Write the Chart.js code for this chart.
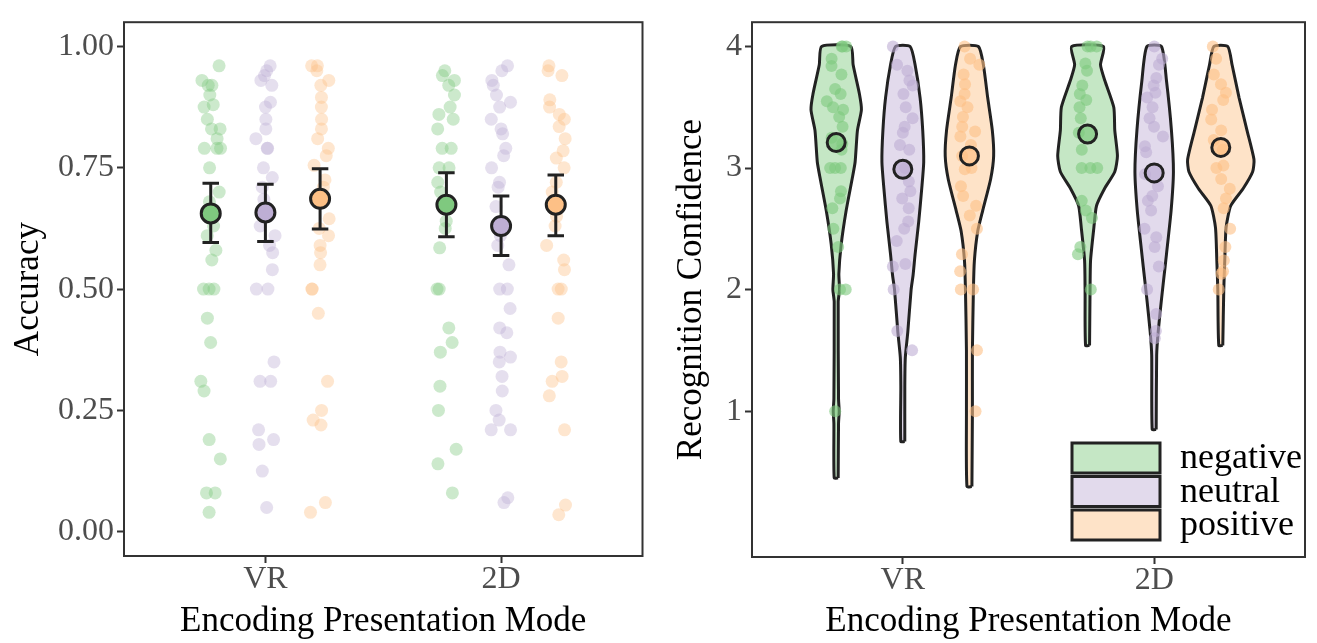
<!DOCTYPE html>
<html>
<head>
<meta charset="utf-8">
<title>Accuracy and Recognition Confidence</title>
<script src="https://cdn.jsdelivr.net/npm/chart.js@4.4.1/dist/chart.umd.min.js"></script>
<style>
  html, body { margin: 0; padding: 0; background: #fff; }
  #wrap { position: relative; width: 1317px; height: 643px; }
  #left { position: absolute; left: 0; top: 0; }
  #right { position: absolute; left: 655px; top: 0; }
</style>
</head>
<body>
<div id="wrap">
  <canvas id="left" width="655" height="643"></canvas>
  <canvas id="right" width="662" height="643"></canvas>
</div>
<script>
const modes = ['VR', '2D'];
const valences = ['negative', 'neutral', 'positive'];
const colors = ['#7FC97F', '#BEAED4', '#FDC086'];

// accuracy, one value per participant
const accVRneg = [0.96, 0.93, 0.92, 0.92, 0.90, 0.88, 0.875, 0.85, 0.83, 0.83, 0.81, 0.79, 0.79, 0.79, 0.75, 0.70, 0.68, 0.63, 0.61, 0.58, 0.56, 0.50, 0.50, 0.50, 0.44, 0.39, 0.31, 0.29, 0.19, 0.15, 0.08, 0.08, 0.04];
const accVRneu = [0.96, 0.95, 0.94, 0.93, 0.92, 0.885, 0.875, 0.85, 0.83, 0.81, 0.79, 0.79, 0.75, 0.73, 0.71, 0.685, 0.63, 0.61, 0.59, 0.575, 0.54, 0.50, 0.50, 0.35, 0.31, 0.31, 0.21, 0.19, 0.18, 0.125, 0.05];
const accVRpos = [0.96, 0.96, 0.95, 0.93, 0.92, 0.895, 0.875, 0.85, 0.83, 0.81, 0.79, 0.775, 0.755, 0.725, 0.71, 0.645, 0.625, 0.61, 0.59, 0.575, 0.55, 0.50, 0.50, 0.45, 0.31, 0.25, 0.23, 0.22, 0.06, 0.04];
const acc2Dneg = [0.95, 0.94, 0.93, 0.92, 0.90, 0.875, 0.86, 0.85, 0.83, 0.79, 0.79, 0.75, 0.75, 0.72, 0.70, 0.64, 0.625, 0.585, 0.50, 0.50, 0.42, 0.39, 0.37, 0.30, 0.25, 0.17, 0.14, 0.08];
const acc2Dneu = [0.96, 0.95, 0.93, 0.92, 0.90, 0.885, 0.875, 0.85, 0.83, 0.82, 0.79, 0.775, 0.75, 0.72, 0.71, 0.67, 0.61, 0.59, 0.55, 0.50, 0.50, 0.46, 0.42, 0.41, 0.37, 0.36, 0.35, 0.32, 0.29, 0.25, 0.23, 0.21, 0.21, 0.07, 0.06];
const acc2Dpos = [0.96, 0.95, 0.94, 0.89, 0.875, 0.86, 0.85, 0.835, 0.81, 0.785, 0.77, 0.75, 0.72, 0.70, 0.67, 0.65, 0.63, 0.59, 0.56, 0.54, 0.50, 0.50, 0.44, 0.35, 0.32, 0.31, 0.28, 0.21, 0.055, 0.035];

// group means and interval ends, rows VR / 2D, columns negative / neutral / positive
const accMean = [[0.656, 0.658, 0.686], [0.674, 0.630, 0.674]];
const accLow  = [[0.596, 0.598, 0.624], [0.608, 0.569, 0.610]];
const accHigh = [[0.718, 0.716, 0.748], [0.740, 0.692, 0.735]];
const accTicks = [0, 0.25, 0.5, 0.75, 1];

// recognition confidence, one value per participant
const confVRneg = [4.0, 4.0, 4.0, 3.9, 3.84, 3.77, 3.65, 3.61, 3.55, 3.5, 3.48, 3.42, 3.34, 3.25, 3.2, 3.15, 3.0, 3.0, 3.0, 2.81, 2.75, 2.67, 2.5, 2.35, 2.0, 2.0, 1.0];
const confVRneu = [4.0, 3.85, 3.8, 3.72, 3.68, 3.61, 3.5, 3.41, 3.34, 3.29, 3.19, 3.15, 3.0, 2.89, 2.81, 2.75, 2.67, 2.56, 2.5, 2.4, 2.21, 2.19, 2.0, 1.66, 1.5];
const confVRpos = [4.0, 3.9, 3.85, 3.77, 3.69, 3.61, 3.55, 3.5, 3.42, 3.34, 3.3, 3.26, 3.19, 3.1, 3.0, 2.99, 2.85, 2.77, 2.69, 2.61, 2.5, 2.29, 2.15, 2.0, 2.0, 1.5, 1.0];
const conf2Dneg = [4.0, 4.0, 4.0, 3.86, 3.8, 3.68, 3.61, 3.56, 3.5, 3.41, 3.29, 3.15, 3.0, 3.0, 3.0, 2.73, 2.65, 2.59, 2.35, 2.29, 2.0];
const conf2Dneu = [4.0, 3.9, 3.85, 3.74, 3.68, 3.62, 3.58, 3.5, 3.41, 3.34, 3.26, 3.18, 3.13, 2.95, 2.85, 2.77, 2.73, 2.65, 2.5, 2.43, 2.35, 2.19, 2.0, 1.8, 1.66, 1.6];
const conf2Dpos = [4.0, 3.9, 3.77, 3.69, 3.62, 3.56, 3.48, 3.4, 3.31, 3.23, 3.15, 3.02, 3.0, 2.91, 2.83, 2.75, 2.67, 2.5, 2.35, 2.24, 2.15, 2.13, 2.0];
const confMean = [[3.21, 2.99, 3.10], [3.28, 2.96, 3.17]];
const confTicks = [1, 2, 3, 4];

// violin outlines: [confidence, relative density]
const vioVRneg = [[0.45, 0.06], [0.9, 0.07], [1.0, 0.09], [1.1, 0.07], [1.9, 0.06], [2.0, 0.1], [2.13, 0.08], [2.37, 0.15], [2.65, 0.3], [2.91, 0.48], [3.05, 0.57], [3.31, 0.64], [3.48, 0.76], [3.61, 0.7], [3.85, 0.51], [4.0, 0.44]];
const vioVRneu = [[0.75, 0.06], [1.2, 0.06], [1.44, 0.075], [1.65, 0.15], [2.0, 0.25], [2.12, 0.31], [2.29, 0.37], [2.56, 0.48], [2.83, 0.57], [3.05, 0.63], [3.31, 0.6], [3.58, 0.52], [3.85, 0.37], [4.0, 0.22]];
const vioVRpos = [[0.38, 0.075], [1.0, 0.09], [1.5, 0.09], [2.0, 0.12], [2.24, 0.15], [2.48, 0.25], [2.65, 0.4], [2.91, 0.64], [3.1, 0.73], [3.31, 0.69], [3.58, 0.55], [3.85, 0.42], [4.0, 0.27]];
const vio2Dneg = [[1.54, 0.06], [2.0, 0.075], [2.24, 0.09], [2.51, 0.19], [2.69, 0.27], [2.83, 0.51], [2.97, 0.82], [3.1, 0.9], [3.31, 0.82], [3.5, 0.79], [3.72, 0.52], [3.85, 0.39], [4.0, 0.48]];
const vio2Dneu = [[0.85, 0.06], [1.46, 0.075], [1.65, 0.12], [1.92, 0.22], [2.19, 0.33], [2.29, 0.37], [2.65, 0.51], [2.97, 0.58], [3.31, 0.52], [3.72, 0.37], [4.0, 0.22]];
const vio2Dpos = [[1.54, 0.06], [2.0, 0.09], [2.24, 0.12], [2.51, 0.16], [2.69, 0.3], [2.83, 0.67], [2.97, 0.96], [3.07, 1.0], [3.31, 0.79], [3.58, 0.55], [3.85, 0.34], [4.0, 0.21]];

const FONT = '"Liberation Serif", "Times New Roman", serif';
const INK = '#222222';

function rgba(hex, a) {
  const n = parseInt(hex.slice(1), 16);
  return `rgba(${n >> 16}, ${(n >> 8) & 255}, ${n & 255}, ${a})`;
}
// horizontal spread of the jittered points, fixed (same every run)
function jitter(i, seed, amp) {
  const h = Math.sin((i + 1) * 12.9898 + seed * 78.233) * 43758.5453;
  return amp * (2 * (h - Math.floor(h)) - 1);
}

const boxPlugin = {
  id: 'panelBox',
  afterDatasetsDraw(chart) {
    const { ctx, chartArea: a } = chart;
    ctx.save();
    ctx.strokeStyle = '#333333';
    ctx.lineWidth = 2;
    ctx.strokeRect(a.left, a.top, a.right - a.left, a.bottom - a.top);
    ctx.restore();
  }
};

function axisX(height) {
  return {
    type: 'linear', min: 0.4, max: 2.6,
    afterBuildTicks: s => { s.ticks = modes.map((m, i) => ({ value: i + 1 })); },
    afterFit: s => { s.height = height; },
    ticks: { callback: v => modes[v - 1], color: '#4D4D4D', font: { family: FONT, size: 32, lineHeight: 1 }, padding: 1, maxRotation: 0 },
    grid: { drawOnChartArea: false, drawTicks: true, tickLength: 7, tickColor: '#333333', tickWidth: 2 },
    border: { display: false },
    title: { display: true, text: 'Encoding Presentation Mode', color: '#000', font: { family: FONT, size: 35 }, padding: { top: 0, bottom: 0 } }
  };
}

function axisY(min, max, ticks, fmt, width, title, titlePad) {
  return {
    type: 'linear', min: min, max: max,
    afterBuildTicks: s => { s.ticks = ticks.map(v => ({ value: v })); },
    afterFit: s => { s.width = width; },
    ticks: { callback: fmt, color: '#4D4D4D', font: { family: FONT, size: 32 }, padding: 3 },
    grid: { drawOnChartArea: false, drawTicks: true, tickLength: 7, tickColor: '#333333', tickWidth: 2 },
    border: { display: false },
    title: { display: true, text: title, color: '#000', font: { family: FONT, size: 35 }, padding: { top: titlePad, bottom: 0 } }
  };
}

// ---- left panel: accuracy ----
const accData = [[accVRneg, accVRneu, accVRpos], [acc2Dneg, acc2Dneu, acc2Dpos]];
const ACC_DODGE = 0.232;
const leftSets = [];
const errData = [];
const meanData = [];
const meanColors = [];
const cap = 0.035;
accData.forEach((grp, m) => grp.forEach((vals, k) => {
  const cx = m + 1 + (k - 1) * ACC_DODGE;
  leftSets.push({
    data: vals.map((v, i) => ({ x: cx + jitter(i, m * 3 + k, 0.042), y: v })),
    pointRadius: 6.5, pointBackgroundColor: rgba(colors[k], 0.4), pointBorderWidth: 0, order: 3
  });
  const lo = accLow[m][k], hi = accHigh[m][k];
  errData.push(
    { x: cx - cap, y: hi }, { x: cx + cap, y: hi }, { x: cx, y: null },
    { x: cx, y: hi }, { x: cx, y: lo }, { x: cx, y: null },
    { x: cx - cap, y: lo }, { x: cx + cap, y: lo }, { x: cx, y: null }
  );
  meanData.push({ x: cx, y: accMean[m][k] });
  meanColors.push(colors[k]);
}));
leftSets.push({ data: errData, showLine: true, spanGaps: false, pointRadius: 0, borderColor: INK, borderWidth: 3, order: 2 });
leftSets.push({ data: meanData, pointRadius: 9.5, pointBackgroundColor: meanColors, pointBorderColor: INK, pointBorderWidth: 3, order: 1 });

new Chart(document.getElementById('left'), {
  type: 'scatter',
  data: { datasets: leftSets },
  options: {
    responsive: false, animation: false, events: [],
    layout: { padding: { top: 10, right: 12, left: 0, bottom: 0 } },
    plugins: { legend: { display: false }, tooltip: { enabled: false } },
    scales: {
      x: axisX(87),
      y: axisY(-0.05, 1.05, accTicks, v => v.toFixed(2), 124, 'Accuracy', 8)
    }
  },
  plugins: [boxPlugin]
});

// ---- right panel: recognition confidence ----
const confData = [[confVRneg, confVRneu, confVRpos], [conf2Dneg, conf2Dneu, conf2Dpos]];
const vioData = [[vioVRneg, vioVRneu, vioVRpos], [vio2Dneg, vio2Dneu, vio2Dpos]];
const CONF_DODGE = 0.265;
const VIO_HALF = 0.132;
const rightSets = [];
const cMeanData = [];
const cMeanColors = [];
confData.forEach((grp, m) => grp.forEach((vals, k) => {
  const cx = m + 1 + (k - 1) * CONF_DODGE;
  const prof = vioData[m][k];
  const outline = prof.map(([y, d]) => ({ x: cx + d * VIO_HALF, y: y }))
    .concat(prof.slice().reverse().map(([y, d]) => ({ x: cx - d * VIO_HALF, y: y })));
  outline.push(outline[0]);
  rightSets.push({
    data: outline, showLine: true, fill: 'shape', tension: 0.2, pointRadius: 0,
    borderColor: INK, borderWidth: 3, backgroundColor: rgba(colors[k], 0.45), order: 5
  });
  rightSets.push({
    data: vals.map((v, i) => ({ x: cx + jitter(i, 10 + m * 3 + k, 0.04), y: v })),
    pointRadius: 6, pointBackgroundColor: rgba(colors[k], 0.6), pointBorderWidth: 0, order: 3
  });
  cMeanData.push({ x: cx, y: confMean[m][k] });
  cMeanColors.push(rgba(colors[k], 0.7));
}));
rightSets.push({ data: cMeanData, pointRadius: 9, pointBackgroundColor: cMeanColors, pointBorderColor: INK, pointBorderWidth: 3, order: 1 });

const legendPlugin = {
  id: 'violinKey',
  afterDraw(chart) {
    const { ctx, chartArea: a } = chart;
    const x = a.right - 233, w = 88, h = 30;
    ctx.save();
    valences.forEach((name, k) => {
      const y = a.bottom - 114 + k * 33.5;
      ctx.fillStyle = rgba(colors[k], 0.45);
      ctx.fillRect(x, y, w, h);
      ctx.strokeStyle = INK;
      ctx.lineWidth = 3;
      ctx.strokeRect(x, y, w, h);
      ctx.fillStyle = '#000';
      ctx.font = '36px ' + FONT;
      ctx.textBaseline = 'middle';
      ctx.textAlign = 'left';
      ctx.fillText(name, x + w + 20, y + h / 2 + 1);
    });
    ctx.restore();
  }
};

new Chart(document.getElementById('right'), {
  type: 'scatter',
  data: { datasets: rightSets },
  options: {
    responsive: false, animation: false, events: [],
    layout: { padding: { top: 10, right: 8, left: 0, bottom: 0 } },
    plugins: { legend: { display: false }, tooltip: { enabled: false } },
    scales: {
      x: axisX(86),
      y: axisY(-0.2, 4.2, confTicks, v => String(v), 97, 'Recognition Confidence', 16)
    }
  },
  plugins: [boxPlugin, legendPlugin]
});
</script>
</body>
</html>
